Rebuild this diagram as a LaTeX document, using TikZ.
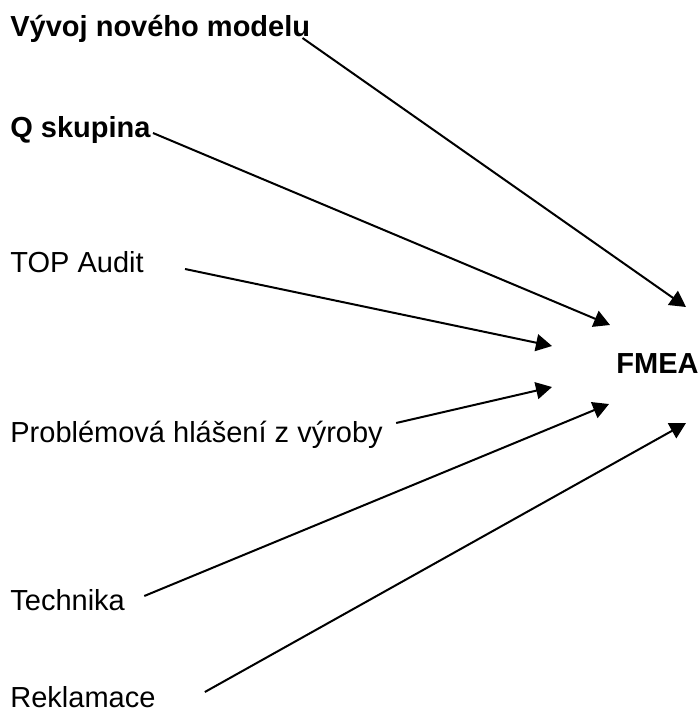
\documentclass[tikz,border=0pt]{standalone}
\usepackage{fontspec}
\setmainfont{Liberation Sans}
\usetikzlibrary{arrows.meta}
\tikzset{
  zdroj/.style={anchor=base west, inner sep=0pt},
  tucny/.style={zdroj, font=\fontsize{14.5}{17}\selectfont\bfseries},
  tok/.style={-{Triangle[length=8pt,width=8.5pt]}, line width=1pt}
}
\begin{document}
\begin{tikzpicture}[x=0.5pt, y=-0.5pt, font=\fontsize{14.5}{17}\selectfont]
\useasboundingbox (0,0) rectangle (698,713);
\node[tucny] (vyvoj) at (10,36) {Vývoj nového modelu};
\node[tucny] (qskup) at (10,137) {Q skupina};
\node[zdroj] (topaudit) at (10,272) {TOP Audit};
\node[zdroj] (problemy) at (10,442) {Problémová hlášení z výroby};
\node[zdroj] (technika) at (10,610) {Technika};
\node[zdroj] (reklamace) at (10,707) {Reklamace};
\node[tucny] (fmea) at (616,373) {FMEA};
\draw[tok]([shift={(-8,2)}]vyvoj.base east)--([shift={(70,-66)}]fmea.base west);
\draw[tok]([shift={(2,-4)}]qskup.base east)--([shift={(-6,-48)}]fmea.base west);
\draw[tok]([shift={(41,-3)}]topaudit.base east)--([shift={(-64,-27)}]fmea.base west);
\draw[tok]([shift={(13,-19)}]problemy.base east)--([shift={(-64,14)}]fmea.base west);
\draw[tok]([shift={(19,-14)}]technika.base east)--([shift={(-7,31)}]fmea.base west);
\draw[tok]([shift={(49,-15)}]reklamace.base east)--([shift={(70,50)}]fmea.base west);
\end{tikzpicture}
\end{document}
